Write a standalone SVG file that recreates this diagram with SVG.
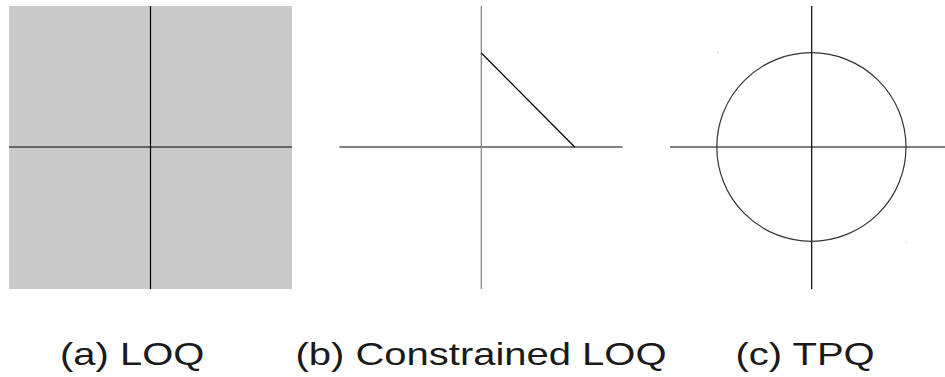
<svg xmlns="http://www.w3.org/2000/svg" width="945" height="377" viewBox="0 0 945 377">
<style>
.ax{stroke:#000;stroke-width:1.2;fill:none}
.lbl{font-family:"Liberation Sans",Arial,sans-serif;font-size:31px;fill:#1a1a1a}
</style>
<rect width="945" height="377" fill="#fff"/>
<g id="panel-a">
<rect x="9" y="6" width="283" height="283" fill="#cacaca"/>
<line class="ax" x1="9" y1="147" x2="292" y2="147"/>
<line class="ax" x1="150.5" y1="6" x2="150.5" y2="289"/>
</g>
<g id="panel-b">
<line class="ax" x1="339.5" y1="147" x2="622.5" y2="147"/>
<line x1="481.3" y1="6" x2="481.3" y2="289" stroke="#888" stroke-width="1.3"/>
<line class="ax" x1="481.3" y1="53" x2="574.7" y2="147" stroke="#222"/>
</g>
<g id="panel-c">
<line class="ax" x1="670" y1="147" x2="945" y2="147"/>
<line class="ax" x1="811.7" y1="6" x2="811.7" y2="289"/>
<ellipse cx="811.4" cy="147" rx="94.6" ry="94.3" fill="none" stroke="#333" stroke-width="1.2"/>
<rect x="717.5" y="51.8" width="1" height="1" fill="#888"/>
<rect x="905.5" y="241.5" width="1" height="1" fill="#aaa"/>
</g>
<g id="labels">
<text class="lbl" transform="translate(60,365) scale(1.29,1)">(a) LOQ</text>
<text class="lbl" transform="translate(295.5,365) scale(1.29,1)">(b) Constrained LOQ</text>
<text class="lbl" transform="translate(735.5,365) scale(1.29,1)">(c) TPQ</text>
</g>
</svg>
